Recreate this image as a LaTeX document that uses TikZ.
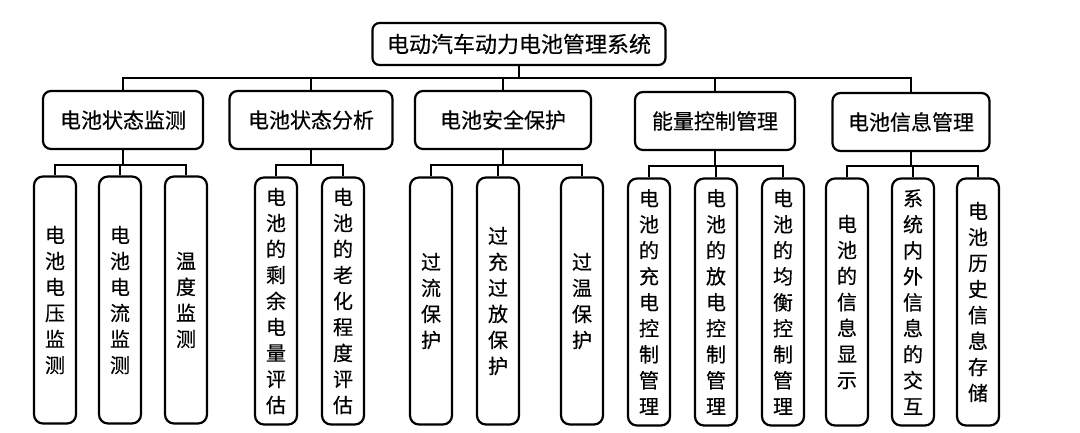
\documentclass[tikz,border=0pt]{standalone}
\usepackage{fontspec}
\usetikzlibrary{calc}
\newfontfamily\cjk[FakeBold=0.4]{Noto Sans CJK SC}
\begin{document}
\begin{tikzpicture}[x=1pt,y=-1pt,
  box/.style={draw, line width=2.2pt, rounded corners=8pt, font=\cjk\fontsize{21}{24}\selectfont, inner sep=2pt},
  topbox/.style={box, minimum width=293pt, minimum height=42pt, rounded corners=7pt, font=\cjk\fontsize{22}{24}\selectfont},
  midbox/.style={box, minimum height=58pt},
  leaf/.style={box, minimum width=42pt, minimum height=247pt, align=center, font=\cjk\fontsize{20}{26}\selectfont, rounded corners=9pt},
  conn/.style={line width=1.5pt}]
\useasboundingbox (0,0) rectangle (1080,432);
\node[topbox] (root) at (519,44) {电动汽车动力电池管理系统};
\node[midbox, minimum width=160pt] (b1) at (123,120) {电池状态监测};
\node[midbox, minimum width=163pt] (b2) at (311,120) {电池状态分析};
\node[midbox, minimum width=176pt] (b3) at (503,120) {电池安全保护};
\node[midbox, minimum width=160pt] (b4) at (715,121) {能量控制管理};
\node[midbox, minimum width=157pt] (b5) at (911,122) {电池信息管理};
% leaves
\node[leaf] (l1) at (55,300) {电\\池\\电\\压\\监\\测};
\node[leaf] (l2) at (120,300) {电\\池\\电\\流\\监\\测};
\node[leaf] (l3) at (186,300) {温\\度\\监\\测};
\node[leaf] (l4) at (276,301) {电\\池\\的\\剩\\余\\电\\量\\评\\估};
\node[leaf] (l5) at (343,301) {电\\池\\的\\老\\化\\程\\度\\评\\估};
\node[leaf] (l6) at (431,301) {过\\流\\保\\护};
\node[leaf] (l7) at (498,301) {过\\充\\过\\放\\保\\护};
\node[leaf] (l8) at (582,301) {过\\温\\保\\护};
\node[leaf] (l9) at (649,302) {电\\池\\的\\充\\电\\控\\制\\管\\理};
\node[leaf] (l10) at (716,302) {电\\池\\的\\放\\电\\控\\制\\管\\理};
\node[leaf] (l11) at (783,302) {电\\池\\的\\均\\衡\\控\\制\\管\\理};
\node[leaf] (l12) at (847,302) {电\\池\\的\\信\\息\\显\\示};
\node[leaf] (l13) at (913,302) {系\\统\\内\\外\\信\\息\\的\\交\\互};
\node[leaf] (l14) at (978,302) {电\\池\\历\\史\\信\\息\\存\\储};
% connectors
\coordinate (rb) at ($(root.south)+(0,12)$);
\draw[conn] (root.south) -- (rb);
\foreach \c in {b1,b2,b3,b4,b5} \draw[conn] (rb) -| (\c.north);
\coordinate (g1) at ($(b1.south)+(0,15)$);
\coordinate (g2) at ($(b2.south)+(0,15)$);
\coordinate (g3) at ($(b3.south)+(0,15)$);
\coordinate (g4) at ($(b4.south)+(0,15)$);
\coordinate (g5) at ($(b5.south)+(0,14)$);
\draw[conn] (b1.south) -- (g1);
\draw[conn] (b2.south) -- (g2);
\draw[conn] (b3.south) -- (g3);
\draw[conn] (b4.south) -- (g4);
\draw[conn] (b5.south) -- (g5);
\foreach \c in {l1,l2,l3} \draw[conn] (g1) -| (\c.north);
\foreach \c in {l4,l5} \draw[conn] (g2) -| (\c.north);
\foreach \c in {l6,l7,l8} \draw[conn] (g3) -| (\c.north);
\foreach \c in {l9,l10,l11} \draw[conn] (g4) -| (\c.north);
\foreach \c in {l12,l13,l14} \draw[conn] (g5) -| (\c.north);
\end{tikzpicture}
\end{document}
